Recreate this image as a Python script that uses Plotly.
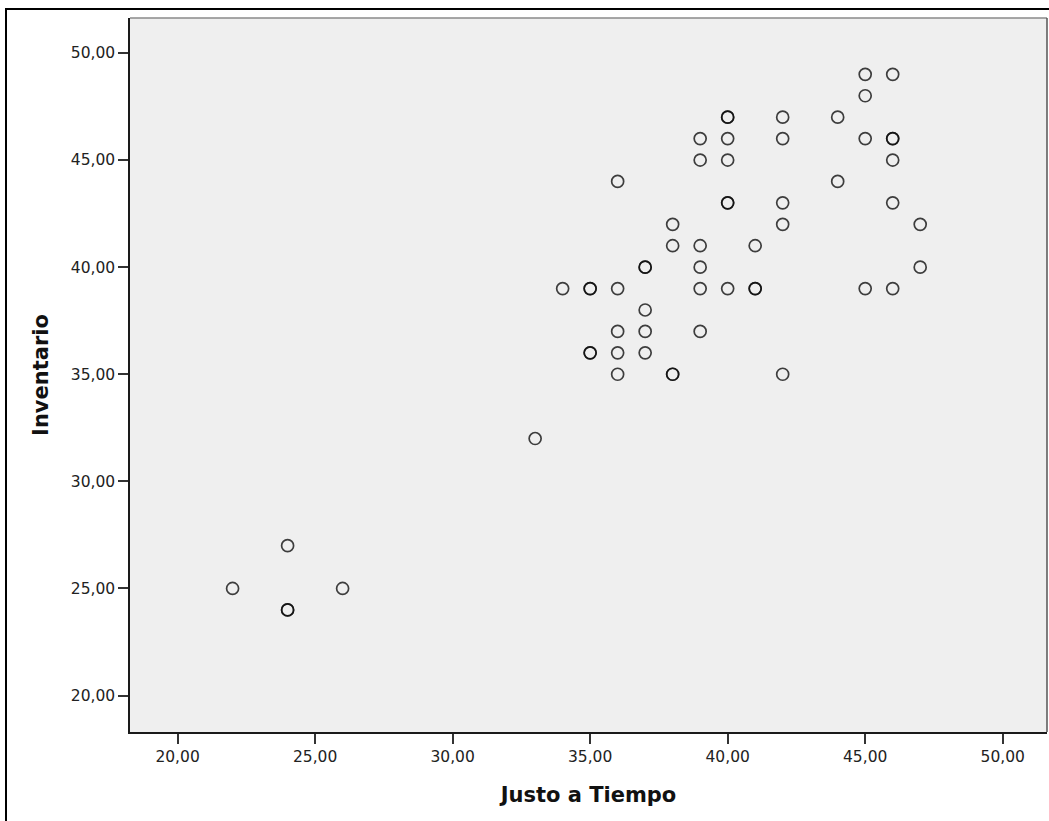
import plotly.graph_objects as go

# Justo a Tiempo (x) vs Inventario (y); repeated pairs are real duplicates
justo_a_tiempo = [22, 24, 24, 24, 26,
                  33,
                  34, 35, 35, 35, 35,
                  36, 36, 36, 36, 36,
                  37, 37, 37, 37, 37,
                  38, 38, 38, 38,
                  39, 39, 39, 39, 39, 39,
                  40, 40, 40, 40, 40, 40, 40,
                  41, 41, 41,
                  42, 42, 42, 42, 42,
                  44, 44,
                  45, 45, 45, 45,
                  46, 46, 46, 46, 46, 46,
                  47, 47]
inventario = [25, 27, 24, 24, 25,
              32,
              39, 39, 39, 36, 36,
              44, 39, 37, 36, 35,
              40, 40, 38, 37, 36,
              42, 41, 35, 35,
              46, 45, 41, 40, 39, 37,
              47, 47, 46, 45, 43, 43, 39,
              41, 39, 39,
              47, 46, 43, 42, 35,
              47, 44,
              49, 48, 46, 39,
              49, 46, 46, 45, 43, 39,
              42, 40]

tick_vals = [20, 25, 30, 35, 40, 45, 50]

fig = go.Figure()
fig.add_trace(go.Scatter(
    x=justo_a_tiempo, y=inventario, mode="markers",
    marker=dict(symbol="circle-open", size=12,
                color="rgba(10,10,10,0.78)",
                line=dict(width=1.7, color="rgba(10,10,10,0.78)")),
    hoverinfo="x+y", showlegend=False))

W, H = 1049, 821
L, R, T, B = 130, 2, 18, 89
pw, ph = W - L - R, H - T - B

axis_common = dict(
    showgrid=False, zeroline=False,
    showline=True, linecolor="#1a1a1a", linewidth=1.5,
    ticks="outside", ticklen=10, tickwidth=2, tickcolor="#333",
    tickvals=tick_vals, tickformat=".2f",
    tickfont=dict(family="DejaVu Sans", size=15.5, color="#222"),
)

title_font = dict(family="DejaVu Sans", size=21, color="#111", weight="bold")

fig.update_layout(
    width=W, height=H,
    margin=dict(l=L, r=R, t=T, b=B, pad=0),
    paper_bgcolor="white", plot_bgcolor="#efefef",
    separators=",.",
    xaxis=dict(range=[18.27, 51.61],
               title=dict(text="Justo a Tiempo", standoff=22, font=title_font),
               **axis_common),
    yaxis=dict(range=[18.30, 51.63],
               title=dict(text="Inventario", standoff=16, font=title_font),
               **axis_common),
    shapes=[
        # top and right edges of the plot frame
        dict(type="line", xref="paper", yref="paper", x0=0, x1=1, y0=1, y1=1,
             line=dict(color="#8a8a8a", width=1.5)),
        dict(type="line", xref="paper", yref="paper", x0=1, x1=1, y0=0, y1=1,
             line=dict(color="#555", width=1.5)),
        # outer border of the chart
        dict(type="rect", xref="paper", yref="paper",
             x0=(6 - L) / pw, x1=1.2, y0=-0.3, y1=1 + (T - 9) / ph,
             line=dict(color="black", width=2), layer="below"),
    ],
)

fig.write_html("out.html")
